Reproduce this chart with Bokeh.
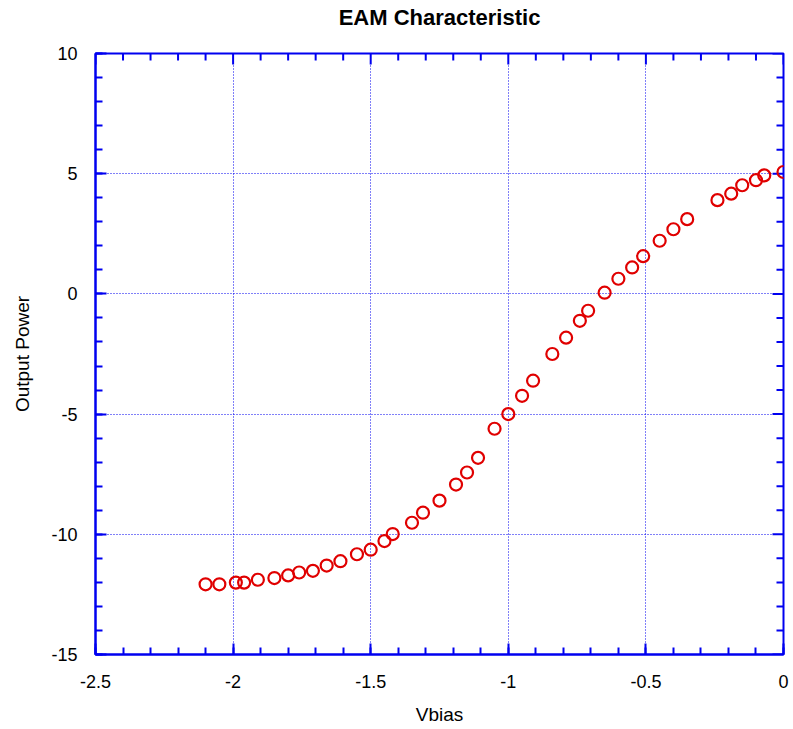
from bokeh.plotting import figure
from bokeh.models import FixedTicker, CustomJSTickFormatter, Range1d, LinearAxis
from bokeh.embed import file_html
from bokeh.resources import INLINE
import numpy as np

# Data
vbias = [-2.10, -2.05, -1.99, -1.96, -1.91, -1.85, -1.80, -1.76, -1.71, -1.66,
         -1.61, -1.55, -1.50, -1.45, -1.42, -1.35, -1.31, -1.25, -1.19, -1.15,
         -1.11, -1.05, -1.00, -0.95, -0.91, -0.84, -0.79, -0.74, -0.71, -0.65,
         -0.60, -0.55, -0.51, -0.45, -0.40, -0.35, -0.24, -0.19, -0.15, -0.10,
         -0.07, 0.00]
power = [-12.08, -12.08, -12.01, -12.01, -11.89, -11.82, -11.71, -11.59, -11.52, -11.30,
         -11.12, -10.83, -10.64, -10.28, -9.99, -9.52, -9.10, -8.60, -7.93, -7.43,
         -6.82, -5.61, -5.00, -4.24, -3.61, -2.50, -1.82, -1.12, -0.70, 0.05,
         0.63, 1.10, 1.57, 2.21, 2.69, 3.11, 3.90, 4.17, 4.52, 4.73,
         4.93, 5.07]

x_ticks = [-2.5, -2, -1.5, -1, -0.5, 0]
y_ticks = [-15, -10, -5, 0, 5, 10]
x_minor = [round(v, 2) for v in np.arange(-2.5, 0.001, 0.1)]
y_minor = [int(v) for v in np.arange(-15, 11, 1)]
X_MIN, X_MAX = -2.5, 0
Y_MIN, Y_MAX = -15, 10
TITLE = "EAM Characteristic"

FONT = "Liberation Sans"
BLUE = "#0000F0"
RED = "#E00000"
MAJ, MIN = 11, 7

p = figure(width=793, height=729, output_backend="svg", toolbar_location=None,
           x_range=Range1d(X_MIN, X_MAX), y_range=Range1d(Y_MIN, Y_MAX),
           min_border_left=95, min_border_right=10, min_border_top=53,
           min_border_bottom=75, background_fill_color="white",
           border_fill_color="white", outline_line_color=BLUE,
           outline_line_width=2)

fmt = CustomJSTickFormatter(code="return tick.toString();")

def style_axis(ax, ticks, minor):
    ax.ticker = FixedTicker(ticks=ticks, minor_ticks=minor)
    ax.formatter = fmt
    ax.axis_line_color = BLUE
    ax.axis_line_width = 2
    ax.major_tick_line_color = BLUE
    ax.major_tick_line_width = 2
    ax.minor_tick_line_color = BLUE
    ax.minor_tick_line_width = 2
    ax.major_tick_in = MAJ
    ax.major_tick_out = 0
    ax.minor_tick_in = MIN
    ax.minor_tick_out = 0
    ax.major_label_text_font = FONT
    ax.major_label_text_font_size = "18px"
    ax.major_label_text_color = "black"
    ax.axis_label_text_font = FONT
    ax.axis_label_text_font_size = "19px"
    ax.axis_label_text_font_style = "normal"
    ax.axis_label_text_color = "black"

xa = p.below[0]
ya = p.left[0]
style_axis(xa, x_ticks, x_minor)
style_axis(ya, y_ticks, y_minor)
xa.axis_label = "Vbias"
ya.axis_label = "Output Power"
xa.major_label_standoff = 20
ya.major_label_standoff = 18
xa.axis_label_standoff = 13
ya.axis_label_standoff = 15

# title drawn as the label of a bare axis above the frame (centred on the frame)
title_axis = LinearAxis(ticker=FixedTicker(ticks=[]), axis_label=TITLE,
                        axis_line_color=None, major_tick_line_color=None,
                        minor_tick_line_color=None, axis_label_standoff=24,
                        axis_label_text_font=FONT, axis_label_text_font_size="22px",
                        axis_label_text_font_style="bold",
                        axis_label_text_color="black")
p.add_layout(title_axis, "above")

# ticks on the top and right frame edges (markers centred on the edge, clipped to the frame)
x_minor_only = [v for v in x_minor if all(abs(v - t) > 1e-9 for t in x_ticks)]
y_minor_only = [v for v in y_minor if v not in y_ticks]
p.scatter(x_ticks, [Y_MAX] * len(x_ticks), marker="dash", angle=np.pi / 2,
          size=2 * MAJ, line_color=BLUE, line_width=2)
p.scatter(x_minor_only, [Y_MAX] * len(x_minor_only), marker="dash", angle=np.pi / 2,
          size=2 * MIN, line_color=BLUE, line_width=2)
p.scatter([X_MAX] * len(y_ticks), y_ticks, marker="dash",
          size=2 * MAJ, line_color=BLUE, line_width=2)
p.scatter([X_MAX] * len(y_minor_only), y_minor_only, marker="dash",
          size=2 * MIN, line_color=BLUE, line_width=2)

xg = p.grid[0] if p.grid[0].dimension == 0 else p.grid[1]
yg = p.grid[1] if p.grid[0].dimension == 0 else p.grid[0]
xg.ticker = FixedTicker(ticks=x_ticks)
yg.ticker = FixedTicker(ticks=y_ticks)
for g in (xg, yg):
    g.grid_line_color = BLUE
    g.grid_line_width = 1
    g.grid_line_dash = "1 2"

p.scatter(vbias, power, marker="circle", size=12, line_width=2.2,
          line_color=RED, fill_color=None)

open("out.html", "w").write(file_html(p, INLINE))
